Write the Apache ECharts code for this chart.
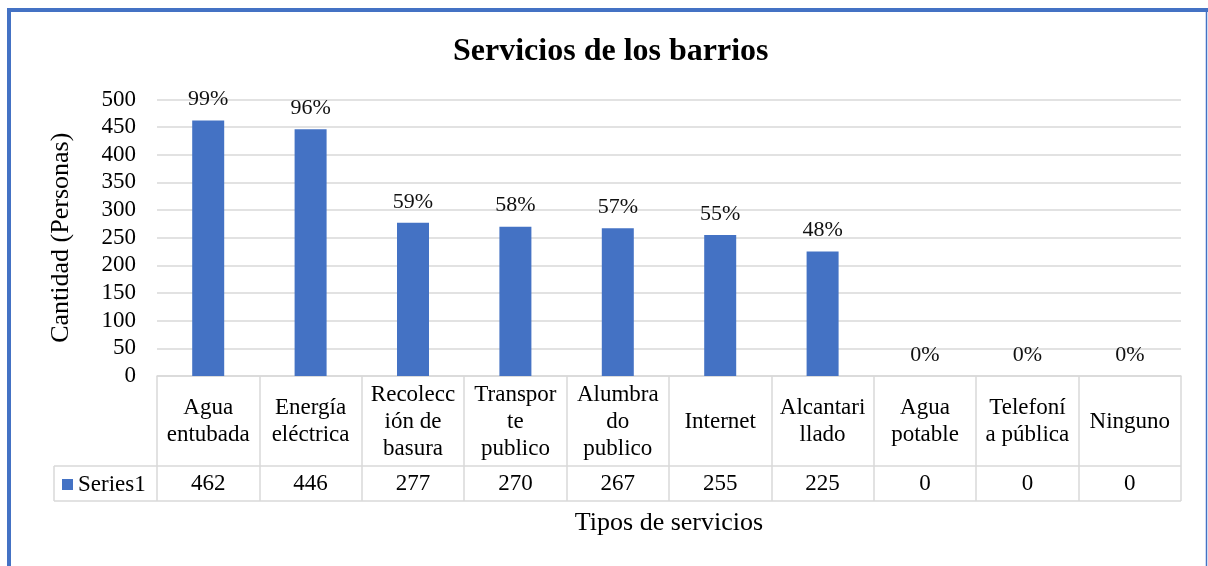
<!DOCTYPE html>
<html>
<head>
<meta charset="utf-8">
<script src="https://cdn.jsdelivr.net/npm/echarts@6/dist/echarts.min.js"></script>
<style>
html,body{margin:0;padding:0;background:#fff;}
#c{width:1208px;height:566px;}
</style>
</head>
<body>
<div id="c"></div>
<script>
const categories = ["Agua\nentubada","Energía\neléctrica","Recolecc\nión de\nbasura","Transpor\nte\npublico","Alumbra\ndo\npublico","Internet","Alcantari\nllado","Agua\npotable","Telefoní\na pública","Ninguno"];
const values = [462, 446, 277, 270, 267, 255, 225, 0, 0, 0];
const percentLabels = ["99%","96%","59%","58%","57%","55%","48%","0%","0%","0%"];
const seriesName = "Series1";
const titleText = "Servicios de los barrios";
const yAxisTitle = "Cantidad (Personas)";
const xAxisTitle = "Tipos de servicios";

const FONT = "'Liberation Serif','Times New Roman',serif";
const BLUE = "#4472C4";
const GRID = "#d9d9d9";
const W = 1208, H = 566;
const gLeft = 157, gRight = 27, gTop = 99.5, gBottom = 190;
const axisY = H - gBottom;            // 376
const rowSplitY = axisY + 90;         // 466
const tableBottomY = axisY + 125;     // 501
const tableLeftX = 54;

const chart = echarts.init(document.getElementById('c'), null, {renderer:'canvas'});
chart.setOption({
  backgroundColor: '#fff',
  animation: false,
  textStyle: {fontFamily: FONT, color: '#000'},
  title: {
    text: titleText, left: 448, top: 31,
    textStyle: {fontFamily: FONT, fontSize: 32, fontWeight: 'bold', color: '#000'}
  },
  legend: {
    data: [seriesName], left: tableLeftX + 3, top: 468,
    icon: 'rect', itemWidth: 11, itemHeight: 11, itemGap: 0,
    textStyle: {fontFamily: FONT, fontSize: 23, color: '#000', padding: [0,0,0,0]},
    selectedMode: false
  },
  grid: {left: gLeft, right: gRight, top: gTop, bottom: gBottom, containLabel: false},
  xAxis: [{
    type: 'category', data: categories, position: 'bottom',
    axisLine: {show: true, lineStyle: {color: GRID, width: 1.5}},
    axisTick: {show: true, length: 125, lineStyle: {color: GRID, width: 1.5}},
    axisLabel: {
      interval: 0, fontFamily: FONT, fontSize: 23, color: '#000',
      lineHeight: 27, margin: 45.5, verticalAlign: 'middle', align: 'center'
    },
    name: xAxisTitle, nameLocation: 'middle', nameGap: 134,
    nameTextStyle: {fontFamily: FONT, fontSize: 26, color: '#000'}
  }, {
    type: 'category', data: categories, position: 'bottom',
    axisLine: {show: false}, axisTick: {show: false},
    axisLabel: {
      interval: 0, fontFamily: FONT, fontSize: 23, color: '#000',
      margin: 108, verticalAlign: 'middle', align: 'center',
      formatter: function (v, i) { return String(values[i]); }
    }
  }],
  yAxis: {
    type: 'value', min: 0, max: 500, interval: 50,
    axisLine: {show: false}, axisTick: {show: false},
    axisLabel: {fontFamily: FONT, fontSize: 23, color: '#000', margin: 21},
    splitLine: {lineStyle: {color: GRID, width: 1.5}},
    name: yAxisTitle, nameLocation: 'middle', nameRotate: 90, nameGap: 83,
    nameTextStyle: {fontFamily: FONT, fontSize: 26, color: '#000'}
  },
  series: [{
    name: seriesName, type: 'bar', data: values, barWidth: 32,
    itemStyle: {color: BLUE},
    label: {
      show: true, position: 'top', distance: 10,
      fontFamily: FONT, fontSize: 22, color: '#111',
      formatter: function (p) { return percentLabels[p.dataIndex]; }
    }
  }],
  graphic: [
    {type: 'line', silent: true, shape: {x1: tableLeftX, y1: rowSplitY, x2: W - gRight, y2: rowSplitY}, style: {stroke: GRID, lineWidth: 1.5}},
    {type: 'line', silent: true, shape: {x1: tableLeftX, y1: tableBottomY, x2: W - gRight, y2: tableBottomY}, style: {stroke: GRID, lineWidth: 1.5}},
    {type: 'line', silent: true, shape: {x1: tableLeftX, y1: rowSplitY, x2: tableLeftX, y2: tableBottomY}, style: {stroke: GRID, lineWidth: 1.5}},
    {type: 'line', silent: true, shape: {x1: 7, y1: 10, x2: W, y2: 10}, style: {stroke: BLUE, lineWidth: 4}},
    {type: 'line', silent: true, shape: {x1: 9, y1: 8, x2: 9, y2: H}, style: {stroke: BLUE, lineWidth: 4}},
    {type: 'line', silent: true, shape: {x1: W - 1.5, y1: 8, x2: W - 1.5, y2: H}, style: {stroke: BLUE, lineWidth: 1.5}}
  ]
});
</script>
</body>
</html>
